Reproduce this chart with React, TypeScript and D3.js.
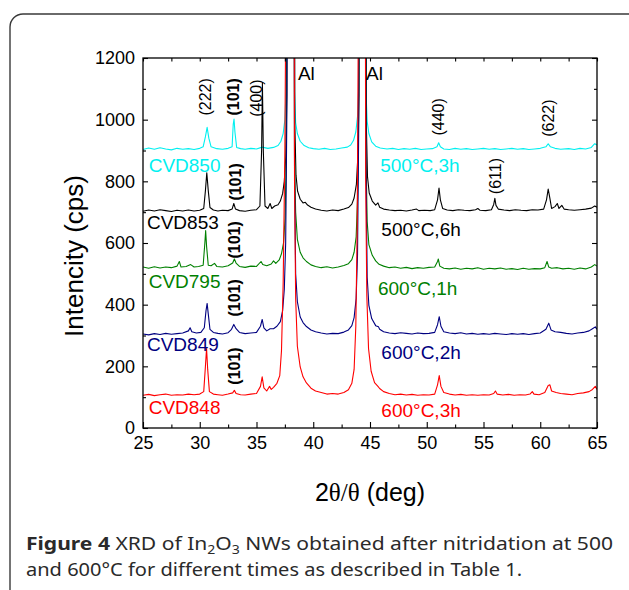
import React, { useEffect, useRef } from 'react';
import * as d3 from 'd3';

type Pt = [number, number];

const xTicks = [25, 30, 35, 40, 45, 50, 55, 60, 65];
const xMinorTicks = [27.5, 32.5, 37.5, 42.5, 47.5, 52.5, 57.5, 62.5];
const yTicks = [0, 200, 400, 600, 800, 1000, 1200];
const yMinorTicks = [100, 300, 500, 700, 900, 1100];

const sampleNames = ['CVD850', 'CVD853', 'CVD795', 'CVD849', 'CVD848'];
const conditions = ['500°C,3h', '500°C,6h', '600°C,1h', '600°C,2h', '600°C,3h'];
const colors = ['#00f0f0', '#000000', '#008000', '#000080', '#ff0000'];

// [2θ, cps]
const cvd850: Pt[] = [
  [25, 903], [25.5, 908], [26, 904], [26.5, 909], [27, 905], [27.5, 902], [28, 907], [28.5, 904], [29, 906],
  [29.5, 903], [30, 907], [30.3, 912], [30.5, 945], [30.65, 975], [30.8, 940], [31, 912], [31.5, 906], [32, 904],
  [32.5, 907], [32.85, 912], [32.95, 985], [33.02, 1002], [33.1, 960], [33.25, 910], [33.6, 906], [34, 904],
  [34.5, 907], [35, 905], [35.5, 911], [36, 907], [36.5, 910], [36.9, 916], [37.15, 930], [37.35, 955],
  [37.5, 1000], [37.6, 1090], [37.72, 3000], [38.22, 3000], [38.35, 1090], [38.45, 990], [38.6, 955],
  [38.85, 930], [39.2, 916], [39.6, 909], [40, 906], [40.5, 904], [41, 907], [41.5, 903], [42, 905],
  [42.5, 908], [43, 911], [43.3, 918], [43.55, 933], [43.75, 960], [43.9, 1010], [44, 1100], [44.1, 3000],
  [44.55, 3000], [44.65, 1090], [44.75, 995], [44.9, 955], [45.15, 928], [45.5, 914], [45.9, 908], [46.5, 905],
  [47, 907], [47.5, 903], [48, 906], [48.5, 904], [49, 907], [49.5, 903], [50, 905], [50.5, 906], [50.9, 912],
  [51.05, 925], [51.2, 912], [51.5, 905], [52, 903], [52.5, 907], [53, 904], [53.5, 906], [54, 903], [54.5, 905],
  [55, 907], [55.5, 904], [56, 906], [56.5, 903], [57, 905], [57.5, 907], [58, 904], [58.5, 906], [59, 903],
  [59.5, 905], [60, 907], [60.5, 912], [60.7, 922], [60.9, 912], [61.3, 907], [61.8, 904], [62.5, 906],
  [63, 903], [63.5, 907], [64, 905], [64.5, 910], [64.8, 922], [65, 918],
];

const cvd853: Pt[] = [
  [25, 703], [25.5, 707], [26, 704], [26.5, 708], [27, 705], [27.5, 702], [28, 706], [28.5, 704], [29, 707],
  [29.5, 704], [30, 706], [30.35, 712], [30.5, 770], [30.62, 828], [30.75, 770], [30.9, 715], [31.2, 707],
  [31.6, 704], [32, 706], [32.5, 705], [32.85, 710], [33, 728], [33.15, 710], [33.5, 705], [34, 703], [34.5, 706],
  [35, 708], [35.3, 720], [35.45, 900], [35.52, 1120], [35.6, 900], [35.75, 720], [36, 712], [36.2, 728],
  [36.35, 712], [36.6, 720], [36.9, 724], [37.1, 736], [37.3, 760], [37.45, 800], [37.58, 880], [37.68, 1080],
  [37.78, 3000], [38.28, 3000], [38.38, 980], [38.48, 820], [38.62, 768], [38.85, 742], [39.1, 730],
  [39.3, 732], [39.5, 723], [39.8, 716], [40.2, 710], [40.7, 706], [41.2, 704], [41.7, 707], [42.2, 705],
  [42.7, 710], [43.1, 715], [43.4, 726], [43.6, 746], [43.8, 790], [43.93, 880], [44.03, 1080], [44.13, 3000],
  [44.58, 3000], [44.68, 980], [44.78, 815], [44.93, 762], [45.2, 736], [45.5, 723], [45.7, 730], [45.85, 716],
  [46.2, 710], [46.7, 707], [47.2, 705], [47.7, 706], [48.2, 704], [48.7, 707], [49.1, 710], [49.3, 705],
  [49.8, 706], [50.3, 705], [50.7, 708], [50.95, 740], [51.08, 778], [51.2, 740], [51.4, 712], [51.8, 707],
  [52.3, 705], [52.8, 708], [53.3, 706], [53.8, 705], [54.3, 708], [54.5, 712], [54.7, 706], [55.2, 705],
  [55.7, 708], [55.9, 725], [56, 745], [56.1, 722], [56.3, 710], [56.8, 707], [57.3, 705], [57.8, 708],
  [58.3, 706], [58.8, 705], [59.3, 708], [59.8, 707], [60.3, 710], [60.55, 740], [60.7, 775], [60.85, 745],
  [61, 712], [61.3, 718], [61.5, 728], [61.65, 712], [61.9, 722], [62.1, 710], [62.5, 708], [63, 706],
  [63.5, 708], [64, 710], [64.5, 713], [64.8, 720], [65, 716],
];

const cvd795: Pt[] = [
  [25, 522], [25.5, 518], [26, 523], [26.5, 519], [27, 522], [27.5, 520], [28, 525], [28.2, 540], [28.35, 522],
  [28.8, 524], [29.2, 530], [29.5, 522], [29.9, 524], [30.3, 528], [30.45, 600], [30.52, 640], [30.6, 590],
  [30.75, 528], [31, 526], [31.3, 534], [31.5, 524], [32, 522], [32.5, 526], [32.9, 535], [33.05, 548],
  [33.2, 535], [33.5, 524], [34, 521], [34.5, 525], [35, 524], [35.4, 540], [35.55, 530], [35.9, 526],
  [36.3, 532], [36.5, 542], [36.7, 534], [37, 545], [37.2, 565], [37.38, 600], [37.52, 680], [37.62, 880],
  [37.72, 3000], [38.25, 3000], [38.35, 880], [38.45, 700], [38.6, 612], [38.85, 570], [39.1, 552],
  [39.4, 540], [39.8, 529], [40.2, 524], [40.7, 520], [41.2, 523], [41.7, 519], [42.2, 522], [42.7, 527],
  [43.1, 533], [43.4, 546], [43.6, 570], [43.78, 620], [43.9, 740], [44, 1000], [44.1, 3000], [44.55, 3000],
  [44.65, 880], [44.75, 670], [44.9, 595], [45.2, 560], [45.5, 542], [45.8, 531], [46.2, 525], [46.7, 520],
  [47.2, 522], [47.7, 518], [48.2, 521], [48.7, 517], [49.2, 520], [49.7, 518], [50.2, 521], [50.7, 522],
  [50.95, 540], [51.02, 548], [51.15, 525], [51.5, 518], [52, 516], [52.5, 519], [53, 515], [53.5, 518],
  [54, 516], [54.5, 520], [55, 515], [55.5, 518], [56, 516], [56.5, 519], [57, 515], [57.5, 517], [58, 514],
  [58.5, 518], [59, 515], [59.5, 517], [60, 516], [60.4, 520], [60.6, 540], [60.75, 522], [61, 518],
  [61.5, 520], [62, 516], [62.5, 518], [63, 515], [63.5, 519], [64, 516], [64.5, 522], [64.8, 530], [65, 525],
];

const cvd849: Pt[] = [
  [25, 305], [25.5, 302], [26, 306], [26.5, 303], [27, 307], [27.5, 304], [28, 306], [28.5, 308], [29, 315],
  [29.15, 325], [29.3, 312], [29.7, 308], [30.1, 310], [30.4, 325], [30.55, 380], [30.65, 404], [30.75, 370],
  [30.9, 320], [31.2, 310], [31.6, 307], [32, 305], [32.5, 309], [32.8, 320], [33, 336], [33.2, 322],
  [33.5, 310], [34, 306], [34.5, 308], [35, 310], [35.35, 330], [35.5, 352], [35.65, 325], [35.9, 315],
  [36.2, 322], [36.5, 322], [36.8, 330], [37.1, 345], [37.3, 380], [37.45, 450], [37.57, 600], [37.67, 1000],
  [37.77, 3000], [38.25, 3000], [38.35, 850], [38.45, 500], [38.6, 410], [38.85, 360], [39.1, 342],
  [39.4, 329], [39.8, 318], [40.2, 312], [40.7, 308], [41.2, 305], [41.7, 307], [42.2, 306], [42.7, 311],
  [43.1, 318], [43.4, 332], [43.6, 358], [43.78, 420], [43.9, 560], [44, 950], [44.1, 3000], [44.55, 3000],
  [44.65, 850], [44.75, 490], [44.9, 398], [45.15, 355], [45.5, 332], [45.75, 328], [45.85, 320], [46.2, 312],
  [46.7, 308], [47.2, 306], [47.7, 309], [48.2, 307], [48.7, 305], [49.2, 308], [49.7, 306], [50.2, 307],
  [50.7, 310], [50.95, 335], [51.1, 361], [51.25, 330], [51.5, 312], [52, 308], [52.5, 306], [53, 309],
  [53.5, 305], [54, 307], [54.5, 304], [55, 306], [55.5, 304], [56, 307], [56.5, 305], [57, 303], [57.5, 306],
  [58, 304], [58.5, 306], [59, 303], [59.5, 306], [60, 308], [60.5, 320], [60.75, 340], [60.95, 318],
  [61.3, 312], [61.8, 310], [62.3, 307], [62.8, 305], [63.3, 308], [63.8, 310], [64.3, 315], [64.6, 322],
  [64.85, 328], [65, 320],
];

const cvd848: Pt[] = [
  [25, 106], [25.5, 109], [26, 105], [26.5, 108], [27, 110], [27.5, 106], [28, 108], [28.5, 107], [29, 110],
  [29.5, 108], [30, 110], [30.35, 118], [30.5, 200], [30.6, 258], [30.7, 190], [30.85, 118], [31.2, 110],
  [31.6, 108], [32, 106], [32.5, 110], [32.9, 114], [33.05, 122], [33.2, 112], [33.6, 108], [34, 107],
  [34.5, 110], [35, 112], [35.35, 135], [35.5, 166], [35.65, 130], [35.9, 120], [36.15, 135], [36.3, 125],
  [36.5, 132], [36.8, 145], [37.05, 170], [37.2, 250], [37.35, 470], [37.5, 900], [37.62, 1600], [37.72, 3000],
  [38.25, 3000], [38.35, 800], [38.45, 420], [38.6, 265], [38.85, 198], [39.1, 166], [39.4, 146], [39.8, 129],
  [40.2, 120], [40.7, 115], [41.2, 110], [41.7, 112], [42.2, 110], [42.7, 115], [43.1, 124], [43.4, 145],
  [43.6, 190], [43.75, 330], [43.87, 650], [43.97, 1300], [44.07, 3000], [44.52, 3000], [44.62, 800],
  [44.72, 430], [44.87, 258], [45.1, 184], [45.4, 147], [45.7, 135], [45.85, 128], [46.2, 118], [46.7, 112],
  [47.2, 108], [47.7, 110], [48.2, 107], [48.7, 109], [49.2, 106], [49.7, 108], [50.2, 107], [50.7, 110],
  [50.95, 140], [51.1, 170], [51.25, 135], [51.5, 115], [52, 110], [52.5, 107], [53, 109], [53.5, 106],
  [54, 108], [54.5, 106], [55, 108], [55.5, 107], [55.9, 112], [56.05, 120], [56.2, 110], [56.7, 107],
  [57.2, 109], [57.7, 106], [58.2, 108], [58.7, 107], [59.1, 110], [59.3, 118], [59.45, 110], [59.9, 108],
  [60.4, 115], [60.7, 138], [60.85, 140], [61, 120], [61.4, 115], [61.8, 112], [62.3, 110], [62.8, 108],
  [63.3, 112], [63.8, 114], [64.3, 118], [64.6, 125], [64.85, 135], [65, 125],
];

const seriesData = [cvd850, cvd853, cvd795, cvd849, cvd848];

// annotation anchors in data units [2θ, cps]
const nameAnchors: Pt[] = [[25.5, 850], [25.35, 665], [25.5, 474], [25.35, 272], [25.5, 65]];
const condAnchors: Pt[] = [[45.9, 850], [46.0, 645], [45.7, 451], [46.0, 244], [46.0, 58]];
const peakLabels = ['(222)', '(101)', '(400)', '(101)', '(101)', '(101)', '(101)', '(440)', '(611)', '(622)'];
const peakBold = [false, true, false, true, true, true, true, false, false, false];
const peakAnchors: Pt[] = [
  [30.55, 1074], [33.0, 1074], [35.0, 1070], [33.15, 798], [33.1, 610], [33.1, 422], [33.1, 201],
  [51.0, 1009], [56.07, 817], [60.77, 1005],
];
const alAnchors: Pt[] = [[38.65, 1151], [44.65, 1151]];

const W = 629;
const H = 590;
const plot = { left: 143, right: 597, top: 58, bottom: 428 };
const ARIAL = "Arial, 'Liberation Sans', Helvetica, sans-serif";

export default function App() {
  const svgRef = useRef<SVGSVGElement>(null);

  useEffect(() => {
    const svg = d3.select(svgRef.current);
    svg.selectAll('*').remove();

    const x = d3.scaleLinear().domain([25, 65]).range([plot.left, plot.right]);
    const y = d3.scaleLinear().domain([0, 1200]).range([plot.bottom, plot.top]);

    svg.append('rect').attr('width', W).attr('height', H).attr('fill', '#fff');

    // figure box
    svg.append('rect')
      .attr('x', 10).attr('y', 14).attr('width', 640).attr('height', 620)
      .attr('rx', 13)
      .attr('fill', 'none').attr('stroke', '#3a3a3a').attr('stroke-width', 1.4);

    svg.append('clipPath').attr('id', 'plotClip')
      .append('rect')
      .attr('x', plot.left).attr('y', plot.top)
      .attr('width', plot.right - plot.left).attr('height', plot.bottom - plot.top);

    // traces
    const line = d3.line<Pt>().x(d => x(d[0])).y(d => y(d[1]));
    svg.append('g').attr('clip-path', 'url(#plotClip)')
      .selectAll('path')
      .data(seriesData)
      .join('path')
      .attr('d', d => line(d))
      .attr('fill', 'none')
      .attr('stroke', (_, i) => colors[i])
      .attr('stroke-width', 1.1)
      .attr('stroke-linejoin', 'round');

    // axes (ticks point inward, mirrored on top/right)
    const styleAxis = (g: any) => {
      g.select('.domain').remove();
      g.selectAll('line').attr('stroke', '#000').attr('stroke-width', 1.1);
      g.attr('font-family', ARIAL).attr('font-size', 18);
      g.selectAll('text').attr('fill', '#000');
    };

    svg.append('g').attr('transform', `translate(0,${plot.bottom})`)
      .call(d3.axisBottom(x).tickValues(xTicks).tickSize(-6).tickPadding(8).tickFormat(d3.format('d')))
      .call(styleAxis);
    svg.append('g').attr('transform', `translate(0,${plot.bottom})`)
      .call(d3.axisBottom(x).tickValues(xMinorTicks).tickSize(-3.5).tickFormat(() => ''))
      .call(styleAxis);
    svg.append('g').attr('transform', `translate(0,${plot.top})`)
      .call(d3.axisTop(x).tickValues([...xTicks, ...xMinorTicks]).tickSize(-3.5).tickFormat(() => ''))
      .call(styleAxis);

    svg.append('g').attr('transform', `translate(${plot.left},0)`)
      .call(d3.axisLeft(y).tickValues(yTicks).tickSize(-5).tickPadding(8).tickFormat(d3.format('d')))
      .call(styleAxis);
    svg.append('g').attr('transform', `translate(${plot.left},0)`)
      .call(d3.axisLeft(y).tickValues(yMinorTicks).tickSize(-3).tickFormat(() => ''))
      .call(styleAxis);
    svg.append('g').attr('transform', `translate(${plot.right},0)`)
      .call(d3.axisRight(y).tickValues(yTicks).tickSize(-5).tickFormat(() => ''))
      .call(styleAxis);
    svg.append('g').attr('transform', `translate(${plot.right},0)`)
      .call(d3.axisRight(y).tickValues(yMinorTicks).tickSize(-3).tickFormat(() => ''))
      .call(styleAxis);

    svg.append('rect')
      .attr('x', plot.left).attr('y', plot.top)
      .attr('width', plot.right - plot.left).attr('height', plot.bottom - plot.top)
      .attr('fill', 'none').attr('stroke', '#000').attr('stroke-width', 1.3);

    // sample names + conditions
    const labels = svg.append('g').attr('font-family', ARIAL).attr('font-size', 19);
    labels.selectAll('text.name')
      .data(sampleNames)
      .join('text')
      .attr('class', 'name')
      .attr('x', (_, i) => x(nameAnchors[i][0]))
      .attr('y', (_, i) => y(nameAnchors[i][1]))
      .attr('dominant-baseline', 'central')
      .attr('fill', (_, i) => colors[i])
      .text(d => d);
    labels.selectAll('text.cond')
      .data(conditions)
      .join('text')
      .attr('class', 'cond')
      .attr('x', (_, i) => x(condAnchors[i][0]))
      .attr('y', (_, i) => y(condAnchors[i][1]))
      .attr('dominant-baseline', 'central')
      .attr('fill', (_, i) => colors[i])
      .text(d => d);

    // peak indices, rotated
    svg.append('g').attr('font-family', ARIAL).attr('font-size', 16)
      .selectAll('text')
      .data(peakLabels)
      .join('text')
      .attr('transform', (_, i) => `translate(${x(peakAnchors[i][0])},${y(peakAnchors[i][1])}) rotate(-90)`)
      .attr('text-anchor', 'middle')
      .attr('dominant-baseline', 'central')
      .attr('font-weight', (_, i) => (peakBold[i] ? 'bold' : 'normal'))
      .text(d => d);

    svg.append('g').attr('font-family', ARIAL).attr('font-size', 19)
      .selectAll('text')
      .data(alAnchors)
      .join('text')
      .attr('x', d => x(d[0]))
      .attr('y', d => y(d[1]))
      .attr('dominant-baseline', 'central')
      .text('Al');

    // axis titles
    svg.append('text')
      .attr('transform', `translate(74,${(plot.top + plot.bottom) / 2 + 13}) rotate(-90)`)
      .attr('text-anchor', 'middle')
      .attr('dominant-baseline', 'central')
      .attr('font-family', ARIAL).attr('font-size', 26)
      .text('Intencity (cps)');

    const xt = svg.append('text')
      .attr('x', (plot.left + plot.right) / 2)
      .attr('y', 492)
      .attr('text-anchor', 'middle')
      .attr('dominant-baseline', 'central')
      .attr('font-family', ARIAL).attr('font-size', 25);
    xt.append('tspan').text('2');
    xt.append('tspan').attr('font-family', "'Liberation Serif', 'Times New Roman', serif").text('θ/θ');
    xt.append('tspan').text(' (deg)');

    // caption
    const cap = svg.append('g')
      .attr('font-family', "'Noto Sans', 'Open Sans', sans-serif")
      .attr('font-size', 18).attr('fill', '#2a2a2a');
    const l1 = cap.append('text').attr('x', 26).attr('y', 550)
      .attr('textLength', 587).attr('lengthAdjust', 'spacingAndGlyphs');
    l1.append('tspan').attr('font-weight', 'bold').text('Figure 4');
    l1.append('tspan').text(' XRD of In');
    l1.append('tspan').attr('font-size', 12).attr('dy', 4).text('2');
    l1.append('tspan').attr('dy', -4).text('O');
    l1.append('tspan').attr('font-size', 12).attr('dy', 4).text('3');
    l1.append('tspan').attr('dy', -4).text(' NWs obtained after nitridation at 500');
    cap.append('text').attr('x', 26).attr('y', 576)
      .attr('textLength', 496).attr('lengthAdjust', 'spacingAndGlyphs')
      .text('and 600°C for different times as described in Table 1.');
  }, []);

  return (
    <svg
      ref={svgRef}
      width={W}
      height={H}
      style={{ position: 'absolute', left: 0, top: 0, display: 'block' }}
    />
  );
}
